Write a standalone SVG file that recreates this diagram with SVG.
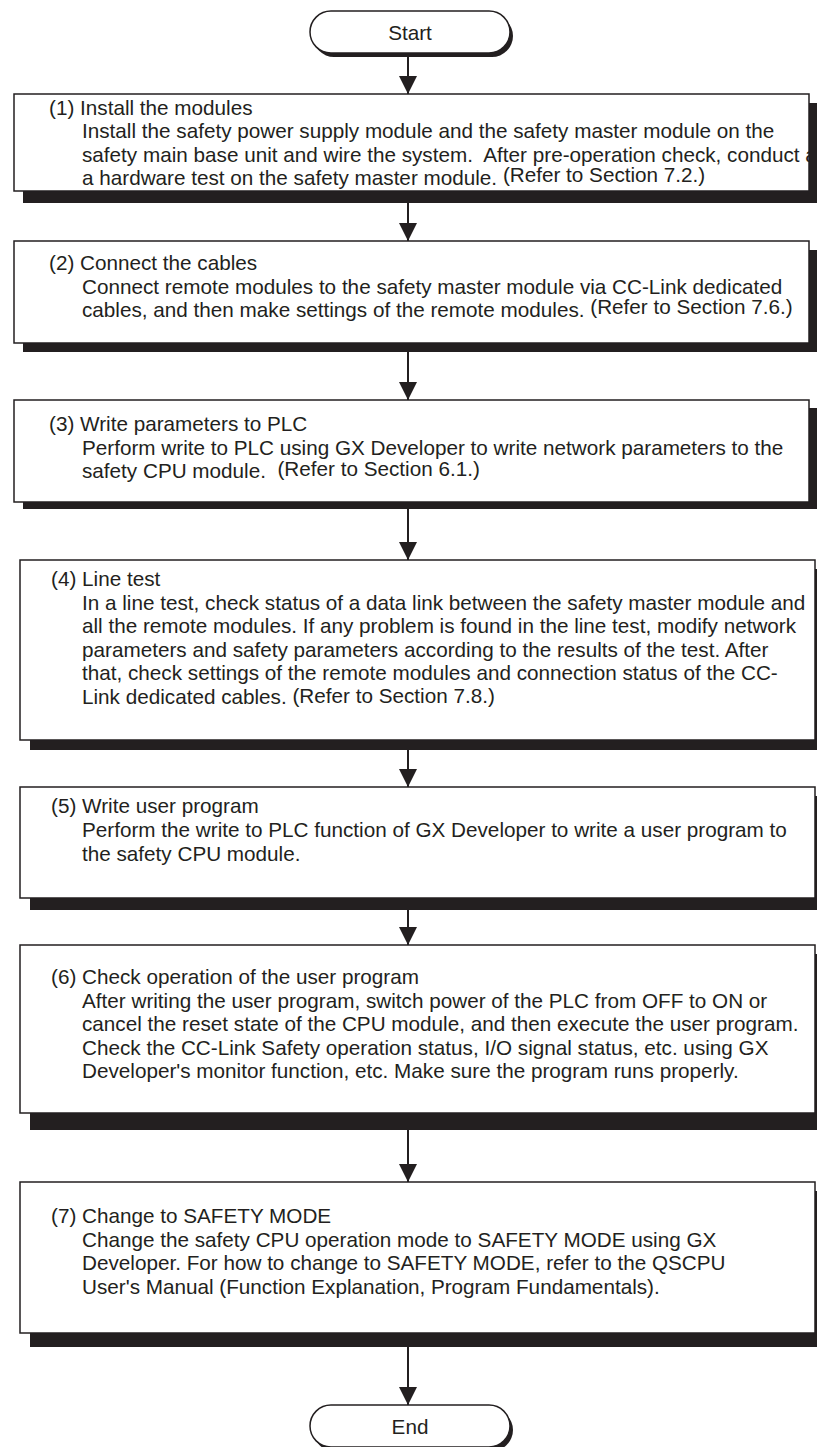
<svg xmlns="http://www.w3.org/2000/svg" width="817" height="1447" viewBox="0 0 817 1447">
<style>
.shadow{fill:#231f20;stroke:none}
.box{fill:#fff;stroke:#231f20;stroke-width:1.5}
.t{font-family:"Liberation Sans",Arial,sans-serif;font-size:20.7px;fill:#231f20}
.c{text-anchor:middle}
.conn{stroke:#231f20;stroke-width:2;fill:none}
</style>
<defs>
<marker id="ah" markerUnits="userSpaceOnUse" markerWidth="18" markerHeight="18" refX="18" refY="9" viewBox="0 0 18 18" orient="auto">
<path d="M0,0 L18,9 L0,18 Z" fill="#231f20"/>
</marker>
<clipPath id="clip1"><rect x="14" y="94" width="795" height="97"/></clipPath>
</defs>
<g id="start">
<rect class="shadow" x="313" y="15" width="200" height="42" rx="21"/>
<rect class="box" x="310" y="11" width="200" height="42" rx="21"/>
<text class="t c" x="410" y="40">Start</text>
</g>
<g id="step1">
<rect class="shadow" x="23" y="103" width="795" height="100"/>
<rect class="box" x="14" y="94" width="795" height="97"/>
<g clip-path="url(#clip1)">
<text class="t" x="49" y="115">(1) Install the modules</text>
<text class="t" x="82" y="138">Install the safety power supply module and the safety master module on the</text>
<text class="t" x="82" y="161.5" xml:space="preserve">safety main base unit and wire the system.  After pre-operation check, conduct a</text>
<text class="t" x="82" y="185">a hardware test on the safety master module. <tspan dy="-3">(Refer to Section 7.2.)</tspan></text>
</g>
</g>
<g id="step2">
<rect class="shadow" x="23" y="250" width="795" height="102"/>
<rect class="box" x="14" y="241" width="795" height="102"/>
<text class="t" x="49" y="270">(2) Connect the cables</text>
<text class="t" x="82" y="293.5">Connect remote modules to the safety master module via CC-Link dedicated</text>
<text class="t" x="82" y="317">cables, and then make settings of the remote modules. <tspan dy="-3">(Refer to Section 7.6.)</tspan></text>
</g>
<g id="step3">
<rect class="shadow" x="23" y="408" width="795" height="101"/>
<rect class="box" x="14" y="400" width="795" height="102"/>
<text class="t" x="49" y="431">(3) Write parameters to PLC</text>
<text class="t" x="82" y="454.5">Perform write to PLC using GX Developer to write network parameters to the</text>
<text class="t" x="82" y="478" xml:space="preserve">safety CPU module.  <tspan dy="-2">(Refer to Section 6.1.)</tspan></text>
</g>
<g id="step4">
<rect class="shadow" x="30" y="569" width="795" height="181"/>
<rect class="box" x="20" y="560" width="795" height="180"/>
<text class="t" x="51" y="586">(4) Line test</text>
<text class="t" x="82" y="609.5">In a line test, check status of a data link between the safety master module and</text>
<text class="t" x="82" y="633">all the remote modules. If any problem is found in the line test, modify network</text>
<text class="t" x="82" y="656.5">parameters and safety parameters according to the results of the test. After</text>
<text class="t" x="82" y="680">that, check settings of the remote modules and connection status of the CC-</text>
<text class="t" x="82" y="703.5">Link dedicated cables. <tspan dy="-1">(Refer to Section 7.8.)</tspan></text>
</g>
<g id="step5">
<rect class="shadow" x="30" y="796" width="795" height="114"/>
<rect class="box" x="20" y="787" width="795" height="111"/>
<text class="t" x="51" y="813">(5) Write user program</text>
<text class="t" x="82" y="837">Perform the write to PLC function of GX Developer to write a user program to</text>
<text class="t" x="82" y="860.5">the safety CPU module.</text>
</g>
<g id="step6">
<rect class="shadow" x="30" y="954" width="795" height="176"/>
<rect class="box" x="20" y="945" width="795" height="168"/>
<text class="t" x="51" y="984">(6) Check operation of the user program</text>
<text class="t" x="82" y="1007.5">After writing the user program, switch power of the PLC from OFF to ON or</text>
<text class="t" x="82" y="1031">cancel the reset state of the CPU module, and then execute the user program.</text>
<text class="t" x="82" y="1054.5">Check the CC-Link Safety operation status, I/O signal status, etc. using GX</text>
<text class="t" x="82" y="1078">Developer's monitor function, etc. Make sure the program runs properly.</text>
</g>
<g id="step7">
<rect class="shadow" x="30" y="1191" width="795" height="156"/>
<rect class="box" x="20" y="1182" width="795" height="151"/>
<text class="t" x="51" y="1223">(7) Change to SAFETY MODE</text>
<text class="t" x="82" y="1246.5">Change the safety CPU operation mode to SAFETY MODE using GX</text>
<text class="t" x="82" y="1270">Developer. For how to change to SAFETY MODE, refer to the QSCPU</text>
<text class="t" x="82" y="1293.5">User's Manual (Function Explanation, Program Fundamentals).</text>
</g>
<g id="end">
<rect class="shadow" x="313" y="1409" width="200" height="42" rx="21"/>
<rect class="box" x="310" y="1405" width="200" height="42" rx="21"/>
<text class="t c" x="410" y="1434">End</text>
</g>
<g id="connectors">
<line class="conn" x1="408" y1="57" x2="408" y2="94" marker-end="url(#ah)"/>
<line class="conn" x1="408" y1="203" x2="408" y2="241" marker-end="url(#ah)"/>
<line class="conn" x1="408" y1="352" x2="408" y2="400" marker-end="url(#ah)"/>
<line class="conn" x1="408" y1="509" x2="408" y2="560" marker-end="url(#ah)"/>
<line class="conn" x1="408" y1="750" x2="408" y2="787" marker-end="url(#ah)"/>
<line class="conn" x1="408" y1="910" x2="408" y2="945" marker-end="url(#ah)"/>
<line class="conn" x1="408" y1="1130" x2="408" y2="1182" marker-end="url(#ah)"/>
<line class="conn" x1="408" y1="1347" x2="408" y2="1405" marker-end="url(#ah)"/>
</g>
</svg>
